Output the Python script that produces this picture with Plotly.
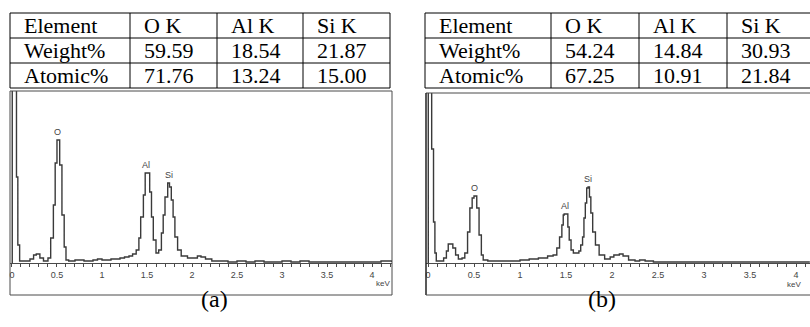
import plotly.graph_objects as go

# ---------------- data ----------------
table_columns = ["Element", "O K", "Al K", "Si K"]
row_labels = ["Weight%", "Atomic%"]
weight_a = [59.59, 18.54, 21.87]
atomic_a = [71.76, 13.24, 15.00]
weight_b = [54.24, 14.84, 30.93]
atomic_b = [67.25, 10.91, 21.84]

tick_vals = [0, 0.5, 1, 1.5, 2, 2.5, 3, 3.5, 4]
tick_text = ["0", "0.5", "1", "1.5", "2", "2.5", "3", "3.5", "4"]

peak_labels = ["O", "Al", "Si"]
peak_energy = [0.51, 1.49, 1.74]

energy_a = [0.00, 0.003, 0.05, 0.065, 0.085, 0.15, 0.20, 0.24, 0.27, 0.31,
            0.35, 0.40, 0.43, 0.46, 0.48, 0.50, 0.53, 0.555, 0.58, 0.60,
            0.63, 0.70, 0.80, 0.90, 0.95, 1.00, 1.05, 1.10, 1.20, 1.25,
            1.30, 1.34, 1.38, 1.41, 1.43, 1.46, 1.48, 1.53, 1.55, 1.57,
            1.60, 1.63, 1.66, 1.68, 1.70, 1.73, 1.75, 1.77, 1.79, 1.81,
            1.84, 1.88, 1.95, 2.02, 2.06, 2.10, 2.15, 2.22, 2.30, 2.40,
            2.50, 2.60, 2.70, 2.80, 2.90, 3.00, 3.10, 3.20, 3.30, 3.40,
            3.50, 3.60, 3.70, 3.80, 3.90, 4.00, 4.10, 4.22]
counts_a = [0, 3000, 860, 180, 20, 20, 40, 80, 90, 50,
            20, 50, 250, 580, 1000, 1230, 980, 480, 160, 30,
            20, 30, 20, 30, 40, 30, 30, 40, 50, 60,
            70, 90, 130, 250, 460, 680, 900, 710, 460, 230,
            100, 130, 300, 480, 660, 800, 760, 630, 460, 260,
            130, 70, 50, 50, 70, 60, 40, 20, 20, 10,
            20, 10, 20, 10, 10, 20, 10, 20, 10, 10,
            10, 10, 10, 10, 10, 10, 20, 10]

energy_b = [0.00, 0.003, 0.04, 0.06, 0.075, 0.09, 0.13, 0.17, 0.20, 0.22,
            0.27, 0.30, 0.33, 0.37, 0.40, 0.43, 0.455, 0.48, 0.50, 0.53,
            0.555, 0.58, 0.60, 0.65, 0.80, 1.00, 1.10, 1.20, 1.30, 1.36,
            1.40, 1.43, 1.455, 1.47, 1.48, 1.52, 1.535, 1.555, 1.58, 1.64,
            1.66, 1.68, 1.695, 1.71, 1.725, 1.74, 1.755, 1.77, 1.79, 1.82,
            1.86, 1.92, 1.98, 2.02, 2.08, 2.12, 2.18, 2.25, 2.30, 2.36,
            2.45, 2.60, 2.80, 3.00, 3.20, 3.40, 3.60, 3.80, 4.00, 4.15]
counts_b = [0, 3000, 1140, 410, 100, 20, 20, 50, 120, 190,
            150, 80, 40, 50, 100, 310, 550, 650, 670, 550,
            280, 80, 30, 20, 20, 30, 40, 50, 70, 80,
            150, 260, 380, 480, 490, 360, 230, 130, 100, 120,
            180, 260, 450, 600, 750, 760, 660, 500, 310, 180,
            80, 40, 60, 80, 90, 70, 30, 20, 30, 20,
            10, 10, 10, 10, 10, 10, 10, 10, 10, 10]

# ---------------- layout helpers ----------------
W, H = 810, 327


def px(x):
    return x / W


def py(y):
    return 1 - y / H


SERIF = "Liberation Serif, Times New Roman, serif"
SANS = "Liberation Sans, Arial, sans-serif"
LINE = "#4a4a4a"

fig = go.Figure()

fig.add_trace(go.Scatter(x=energy_a, y=counts_a, mode="lines", xaxis="x", yaxis="y",
                         line=dict(shape="hv", color="#3a3a3a", width=1.4),
                         showlegend=False, hoverinfo="skip"))
fig.add_trace(go.Scatter(x=energy_b, y=counts_b, mode="lines", xaxis="x2", yaxis="y2",
                         line=dict(shape="hv", color="#3a3a3a", width=1.4),
                         showlegend=False, hoverinfo="skip"))

xcommon = dict(showline=True, linecolor=LINE, linewidth=1, ticks="outside", ticklen=3,
               tickcolor=LINE, tickwidth=1, tickvals=tick_vals, ticktext=tick_text,
               tickfont=dict(family=SANS, size=9, color="#444"), showgrid=False,
               zeroline=False, fixedrange=True,
               minor=dict(ticks="outside", ticklen=3, dtick=0.1, tickcolor=LINE,
                          tickwidth=1, showgrid=False))
ycommon = dict(showline=False, showticklabels=False, ticks="", showgrid=False,
               zeroline=False, fixedrange=True)

fig.update_layout(
    width=W, height=H, margin=dict(l=0, r=0, t=0, b=0),
    paper_bgcolor="white", plot_bgcolor="rgba(0,0,0,0)", showlegend=False,
    xaxis=dict(domain=[px(10), px(392)], range=[-0.022, 4.222], anchor="y", **xcommon),
    yaxis=dict(domain=[py(263), py(91)], range=[0, 1720], anchor="x", **ycommon),
    xaxis2=dict(domain=[px(426), 1.0], range=[-0.0217, 4.152], anchor="y2", **xcommon),
    yaxis2=dict(domain=[py(263), py(93)], range=[0, 1700], anchor="x2", **ycommon),
)

shapes = [
    dict(type="rect", xref="paper", yref="paper", x0=px(10), x1=px(392), y0=py(295), y1=py(91),
         line=dict(color=LINE, width=1)),
    dict(type="line", xref="paper", yref="paper", x0=px(426), x1=1.0, y0=py(93), y1=py(93),
         line=dict(color=LINE, width=1)),
    dict(type="line", xref="paper", yref="paper", x0=px(426), x1=px(426), y0=py(295), y1=py(93),
         line=dict(color="#222", width=1.5)),
    dict(type="line", xref="paper", yref="paper", x0=px(426), x1=1.0, y0=py(295), y1=py(295),
         line=dict(color=LINE, width=1)),
]
annotations = []

# ---------------- tables built from the data lists ----------------
ROW_Y = [13, 38, 63, 88]


def add_table(col_x, weight, atomic, right_edge=True):
    rows = [table_columns,
            [row_labels[0]] + [f"{v:.2f}" for v in weight],
            [row_labels[1]] + [f"{v:.2f}" for v in atomic]]
    x_left, x_right = col_x[0], col_x[-1]
    for yy in ROW_Y:
        shapes.append(dict(type="line", xref="paper", yref="paper", x0=px(x_left), x1=px(x_right),
                           y0=py(yy), y1=py(yy), line=dict(color="black", width=1)))
    vlines = col_x if right_edge else col_x[:-1]
    for xx in vlines:
        shapes.append(dict(type="line", xref="paper", yref="paper", x0=px(xx), x1=px(xx),
                           y0=py(ROW_Y[-1]), y1=py(ROW_Y[0]), line=dict(color="black", width=1)))
    for r, row in enumerate(rows):
        yc = (ROW_Y[r] + ROW_Y[r + 1]) / 2
        for c, txt in enumerate(row):
            annotations.append(dict(x=px(col_x[c] + 12), y=py(yc), xref="paper", yref="paper",
                                    text=txt, showarrow=False, xanchor="left", yanchor="middle",
                                    font=dict(family=SERIF, size=22, color="black")))


add_table([10, 130, 217, 303, 390], weight_a, atomic_a)
add_table([425, 551, 639, 727, 814], weight_b, atomic_b, right_edge=False)

for xr, yr, en, ct in [("x", "y", energy_a, counts_a), ("x2", "y2", energy_b, counts_b)]:
    for lab, pe in zip(peak_labels, peak_energy):
        top = max(c for e, c in zip(en, ct) if abs(e - pe) <= 0.04)
        annotations.append(dict(x=pe, y=top, xref=xr, yref=yr, text=lab, showarrow=False,
                                yanchor="bottom", yshift=1,
                                font=dict(family=SANS, size=9, color="#444")))
annotations.append(dict(x=px(383), y=py(290), xref="paper", yref="paper", text="keV",
                        showarrow=False, font=dict(family=SANS, size=8, color="#444")))
annotations.append(dict(x=px(803), y=py(291), xref="paper", yref="paper", text="keV",
                        showarrow=False, font=dict(family=SANS, size=8, color="#444")))
annotations.append(dict(x=px(199), y=py(314), xref="paper", yref="paper", text="(a)",
                        showarrow=False, font=dict(family=SERIF, size=24, color="black")))
annotations.append(dict(x=px(618), y=py(314), xref="paper", yref="paper", text="(b)",
                        showarrow=False, font=dict(family=SERIF, size=24, color="black")))

fig.update_layout(shapes=shapes, annotations=annotations)

fig.write_html("out.html", config={"displayModeBar": False, "staticPlot": True},
               post_script="document.body.style.margin='0';document.body.style.overflow='hidden';")
